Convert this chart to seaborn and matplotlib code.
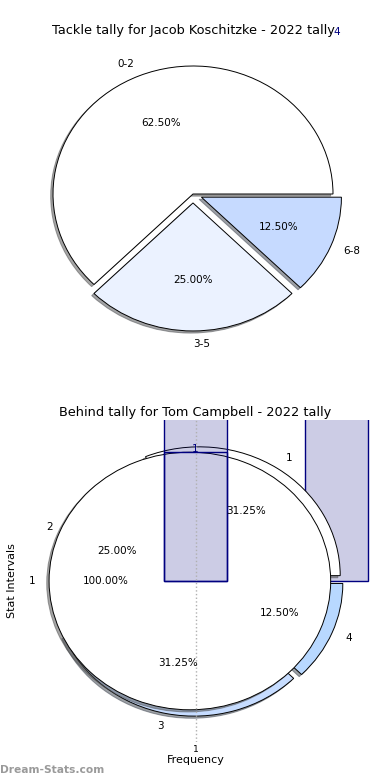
import matplotlib
matplotlib.use("Agg")
import matplotlib.pyplot as plt
import seaborn as sns
import numpy as np

# ---- data ----
tackle_labels = ["0-2", "3-5", "6-8"]
tackle_counts = [5, 2, 1]
tackle_colors = ["#ffffff", "#ebf2ff", "#c6daff"]
tackle_explode = [0.0, 0.07, 0.065]

behind_labels = ["1", "2", "3", "4"]
behind_counts = [5, 4, 5, 2]
behind_colors = ["#ffffff", "#ffffff", "#c6dcff", "#b8d8ff"]
behind_explode = [0.05, 0.0, 0.05, 0.05]

total_labels = ["1"]
total_counts = [1]
total_explode = [0.04]

bar_positions = ["1", "4"]
bar_heights = [4.25, 4.25]
bar_values = [1, 4]

title1 = "Tackle tally for Jacob Koschitzke - 2022 tally"
title2 = "Behind tally for Tom Campbell - 2022 tally"

sns.set_style("white")
plt.rcParams["font.family"] = ["DejaVu Sans"]
plt.rcParams["text.color"] = "black"

fig = plt.figure(figsize=(3.9, 7.8), dpi=100)
ax1 = fig.add_axes([18 / 390, 1 - 354 / 780, 350 / 390, 320 / 780])
ax2 = fig.add_axes([19.5 / 390, 1 - 742 / 780, 352 / 390, 322 / 780])

wp = dict(edgecolor="black", linewidth=0.7)
tp = dict(fontsize=7.5, color="black")
shadow = dict(ox=-0.012, oy=-0.012)

# ---- first pie ----
ax1.pie(tackle_counts, labels=tackle_labels, colors=tackle_colors,
        explode=tackle_explode, autopct="%.2f%%", shadow=shadow,
        wedgeprops=wp, textprops=tp)
ax1.set_aspect("auto")
ax1.set_title(title1, fontsize=9.3, y=0.999, pad=0, color="black")

# ---- second panel ----
def new_patches(before):
    return [p for p in ax2.patches if p not in before]

# tall bars (seaborn)
before = list(ax2.patches)
sns.barplot(x=bar_positions, y=bar_heights, ax=ax2, width=0.45,
            color="navy", saturation=1, edgecolor="navy", linewidth=1.0)
tall_bars = new_patches(before)
for p in tall_bars:
    p.set_alpha(None)
    p.set_facecolor((0.0, 0.0, 0.5, 0.2))
    p.set_edgecolor("navy")
tall_bars[0].set_zorder(2.0)
tall_bars[1].set_zorder(0.5)

# outline bar at labelled value
cont_val = ax2.bar([0], [bar_values[0]], width=0.45, facecolor="none",
                   edgecolor="navy", linewidth=1.0, zorder=2.1)

# pie with four wedges (behind)
before = list(ax2.patches)
ax2.pie(behind_counts, labels=behind_labels, colors=behind_colors,
        explode=behind_explode, autopct="%.2f%%", shadow=shadow,
        wedgeprops=wp, textprops=tp)
for p in new_patches(before):
    p.set_zorder(0.9 if type(p).__name__ == "Shadow" else 1.0)

# single-wedge pie on top
before = list(ax2.patches)
ax2.pie(total_counts, labels=total_labels, colors=["#ffffff"],
        explode=total_explode, autopct="%.2f%%", shadow=shadow,
        wedgeprops=wp, textprops=tp)
for p in new_patches(before):
    p.set_zorder(1.4 if type(p).__name__ == "Shadow" else 1.5)

ax2.set_aspect("auto")
ax2.set_xlim(-1.25, 1.25)
ax2.set_ylim(-1.25, 1.25)

# bar labels
ax2.bar_label(cont_val, labels=[str(bar_values[0])], color="navy",
              fontsize=7.5, padding=-1, annotation_clip=False)
ax2.annotate(str(bar_values[1]), xy=(1, bar_heights[1]), xytext=(0, -2.5),
             textcoords="offset points", ha="center", va="bottom",
             color="navy", fontsize=7.5, annotation_clip=False)

ax2.set_xticks([0])
ax2.set_xticklabels([bar_positions[0]], fontsize=6.5, color="black")
ax2.set_yticks([])
ax2.tick_params(axis="x", length=0, pad=2)
ax2.grid(axis="x", linestyle=":", color="#b0b0b0", linewidth=1.0)
ax2.set_axisbelow(False)
ax2.set_xlabel("Frequency", fontsize=8, labelpad=1, color="black")
ax2.set_ylabel("Stat Intervals", fontsize=8, labelpad=2, color="black")
ax2.set_title(title2, fontsize=9.3, pad=3, color="black")
for s in ax2.spines.values():
    s.set_visible(False)

fig.text(0.0, 1 - 770 / 780, "Dream-Stats.com", ha="left", va="center",
         fontsize=7.7, fontweight="bold", color="#9a9a9a")

fig.savefig("out.png", dpi=100)
